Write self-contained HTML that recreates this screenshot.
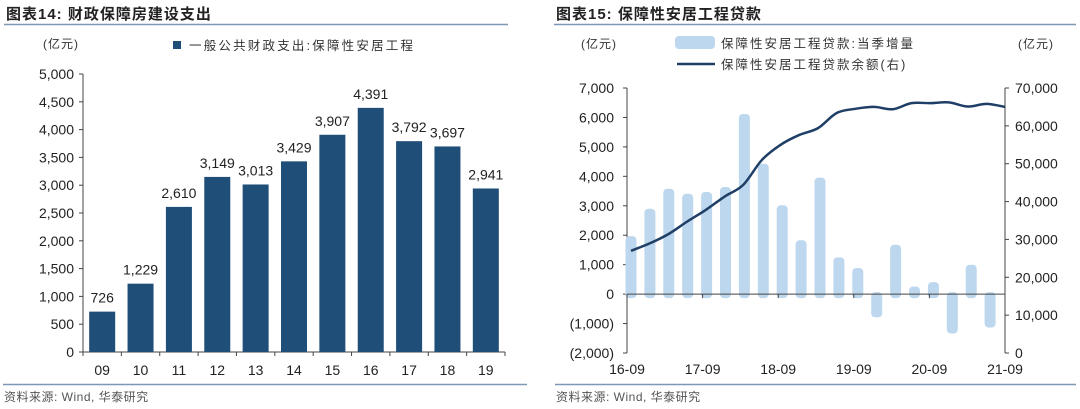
<!DOCTYPE html>
<html><head><meta charset="utf-8"><style>
html,body{margin:0;padding:0;background:#fff;}
svg{display:block;font-family:"Liberation Sans","Noto Sans CJK SC",sans-serif;}
</style></head><body>
<svg id="c" width="1080" height="409" viewBox="0 0 1080 409">
<g>
<text x="6" y="19" font-size="15" font-weight="bold" fill="#222" letter-spacing="1">图表14:  财政保障房建设支出</text>
<line x1="4" y1="24.5" x2="508" y2="24.5" stroke="#7f97b6" stroke-width="1.5"/>
<text x="43" y="48" font-size="12" fill="#333" letter-spacing="1">(亿元)</text>
<rect x="173" y="41" width="8" height="8" fill="#1f4e79"/>
<text x="189" y="50" font-size="12.5" fill="#333" letter-spacing="2.2">一般公共财政支出:保障性安居工程</text>
</g>
<g id="left"></g>
<g>
<text x="556" y="19" font-size="15" font-weight="bold" fill="#222" letter-spacing="1">图表15:  保障性安居工程贷款</text>
<line x1="554" y1="24.5" x2="1076" y2="24.5" stroke="#7f97b6" stroke-width="1.5"/>
<text x="581" y="48" font-size="12" fill="#333" letter-spacing="1">(亿元)</text>
<text x="1018" y="48" font-size="12" fill="#333" letter-spacing="1">(亿元)</text>
<rect x="675" y="36" width="40" height="13" rx="4" fill="#bdd7ee"/>
<text x="721" y="48" font-size="12.5" fill="#333" letter-spacing="2">保障性安居工程贷款:当季增量</text>
<line x1="677" y1="64" x2="715" y2="64" stroke="#1f3f66" stroke-width="2.5"/>
<text x="721" y="69" font-size="12.5" fill="#333" letter-spacing="2">保障性安居工程贷款余额(右)</text>
</g>
<g id="right"></g>
<g>
<line x1="3" y1="384.5" x2="527" y2="384.5" stroke="#7f97b6" stroke-width="1.5"/>
<line x1="555" y1="384.5" x2="1076" y2="384.5" stroke="#7f97b6" stroke-width="1.5"/>
<text x="4" y="401" font-size="12" fill="#555" letter-spacing="0.5">资料来源: Wind, 华泰研究</text>
<text x="556" y="401" font-size="12" fill="#555" letter-spacing="0.5">资料来源: Wind, 华泰研究</text>
</g>
</svg>
<script>
const leftCats=["09","10","11","12","13","14","15","16","17","18","19"];
const leftVals=[726,1229,2610,3149,3013,3429,3907,4391,3792,3697,2941];
const leftTicks=[0,500,1000,1500,2000,2500,3000,3500,4000,4500,5000];
const rightBars=[1900,2830,3510,3340,3400,3570,6050,4360,2950,1760,3890,1180,820,-650,1610,190,340,-1200,930,-1000];
const rightLine=[27000,28950,31400,34700,37800,41300,44400,51000,55000,57600,59400,63400,64500,65000,64400,66000,66000,66200,65100,65800,65000];
const rightLTicks=[-2000,-1000,0,1000,2000,3000,4000,5000,6000,7000];
const rightRTicks=[0,10000,20000,30000,40000,50000,60000,70000];
const rightXLabels=["16-09","17-09","18-09","19-09","20-09","21-09"];
const NS="http://www.w3.org/2000/svg";
function mk(p,t,a){const e=document.createElementNS(NS,t);for(const k in a)e.setAttribute(k,a[k]);p.appendChild(e);return e;}
function fmt(v){const s=Math.abs(v).toLocaleString('en-US');return v<0?'('+s+')':s;}
// LEFT
const L=document.getElementById('left');
const lx0=83,lx1=505,ly0=352,ly1=74;
const ly=v=>ly0+(v-0)/(5000)*(ly1-ly0);
const lcw=(lx1-lx0)/leftCats.length;
mk(L,'line',{x1:lx0,y1:ly1,x2:lx0,y2:ly0,stroke:'#444'});
mk(L,'line',{x1:lx0,y1:ly0,x2:lx1,y2:ly0,stroke:'#444'});
leftTicks.forEach(t=>{mk(L,'line',{x1:lx0-4,y1:ly(t),x2:lx0,y2:ly(t),stroke:'#444'});
const tx=mk(L,'text',{x:lx0-9,y:ly(t)+5,'font-size':14,'text-anchor':'end',fill:'#222'});tx.textContent=fmt(t);

});
for(let i=0;i<=leftCats.length;i++)mk(L,'line',{x1:lx0+i*lcw,y1:ly0,x2:lx0+i*lcw,y2:ly0+4,stroke:'#444'});
leftCats.forEach((c,i)=>{const cx=lx0+(i+0.5)*lcw,v=leftVals[i];
const r=mk(L,'rect',{x:cx-13,y:ly(v),width:26,height:ly0-ly(v),fill:'#1f4e79'});


const t=mk(L,'text',{x:cx,y:ly(v)-9,'font-size':14,'text-anchor':'middle',fill:'#222'});t.textContent=fmt(v);


const xl=mk(L,'text',{x:cx,y:375,'font-size':14,'text-anchor':'middle',fill:'#222'});xl.textContent=c;

});
// RIGHT
const R=document.getElementById('right');
const rx0=627,rx1=1005,ry0=353,ry1=88;
const ryl=v=>ry0+(v+2000)/9000*(ry1-ry0);
const ryr=v=>ry0+v/70000*(ry1-ry0);
const step=(rx1-rx0)/20, bx0=rx0+4;
mk(R,'line',{x1:rx0,y1:ry1,x2:rx0,y2:ry0,stroke:'#444'});
mk(R,'line',{x1:rx1,y1:ry1,x2:rx1,y2:ry0,stroke:'#444'});
rightLTicks.forEach(t=>{mk(R,'line',{x1:rx0-4,y1:ryl(t),x2:rx0,y2:ryl(t),stroke:'#444'});
const tx=mk(R,'text',{x:rx0-13,y:ryl(t)+5,'font-size':14,'text-anchor':'end',fill:'#222'});tx.textContent=fmt(t);

});
rightRTicks.forEach(t=>{mk(R,'line',{x1:rx1,y1:ryr(t),x2:rx1+4,y2:ryr(t),stroke:'#444'});
const tx=mk(R,'text',{x:rx1+10,y:ryr(t)+5,'font-size':14,fill:'#222'});tx.textContent=fmt(t);

});
rightBars.forEach((v,i)=>{const cx=bx0+i*step;const y0=ryl(0),y=ryl(v);
const r=mk(R,'rect',{x:cx-5.5,y:Math.min(y,y0)-2,width:11,height:Math.abs(y0-y)+6,rx:4,fill:'#bdd7ee'});

});
mk(R,'line',{x1:rx0,y1:ryl(0),x2:rx1,y2:ryl(0),stroke:'#444'});
rightXLabels.forEach((l,i)=>{
const xx=rx0+i*(rx1-rx0)/5;
mk(R,'line',{x1:xx,y1:ryl(0),x2:xx,y2:ryl(0)+4,stroke:'#444'});
const t=mk(R,'text',{x:xx,y:374,'font-size':14,'text-anchor':'middle',fill:'#222'});t.textContent=l;

});
const pts=rightLine.map((v,i)=>[bx0+i*(rx1-bx0)/20,ryr(v)]);
let d='M'+pts[0][0]+','+pts[0][1];
for(let i=0;i<pts.length-1;i++){const p0=pts[i-1]||pts[i],p1=pts[i],p2=pts[i+1],p3=pts[i+2]||p2;
d+=' C'+(p1[0]+(p2[0]-p0[0])/6)+','+(p1[1]+(p2[1]-p0[1])/6)+' '+(p2[0]-(p3[0]-p1[0])/6)+','+(p2[1]-(p3[1]-p1[1])/6)+' '+p2[0]+','+p2[1];}
const ln=mk(R,'path',{d:d,fill:'none',stroke:'#1f3f66','stroke-width':2.5});


</script>
</body></html>
